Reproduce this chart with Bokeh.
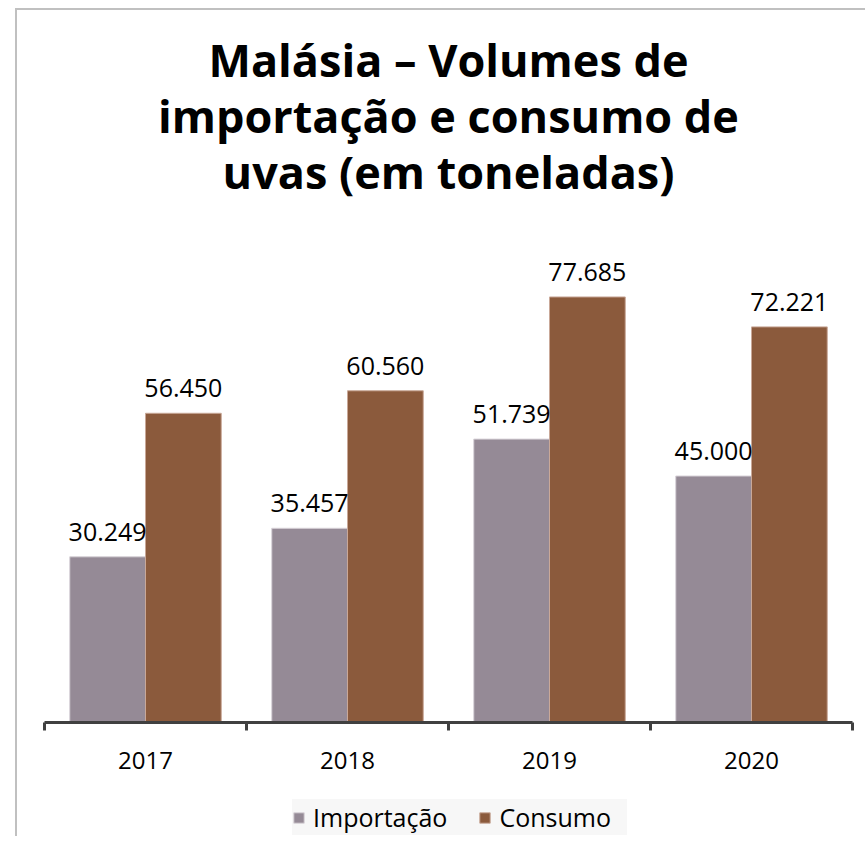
from bokeh.plotting import figure
from bokeh.layouts import column
from bokeh.models import (ColumnDataSource, Range1d, FixedTicker, Legend, LegendItem,
                          LabelSet, Title)
from bokeh.core.properties import value
from bokeh.embed import file_html
from bokeh.resources import INLINE

# ---- data (tonnes) ----
years = ["2017", "2018", "2019", "2020"]
importacao = [30249, 35457, 51739, 45000]
consumo = [56450, 60560, 77685, 72221]
series_names = ["Importação", "Consumo"]
title_lines = ["Malásia – Volumes de", "importação e consumo de", "uvas (em toneladas)"]
colors = ["#958A96", "#8B5A3C"]
edge_colors = ["#d8d2d8", "#c9a898"]

def fmt(v):
    return f"{v:,}".replace(",", ".")

centers = [i + 0.5 for i in range(len(years))]
bar_w = 0.375
src = ColumnDataSource(dict(
    x_imp=[c - bar_w / 2 for c in centers],
    x_con=[c + bar_w / 2 for c in centers],
    imp=importacao, con=consumo,
    imp_lab=[fmt(v) for v in importacao],
    con_lab=[fmt(v) for v in consumo],
))

FONT = "Open Sans"
W = 848
FRAME_H = 528
Y_END = 90000 * FRAME_H / 493

p = figure(width=W, height=772, output_backend="svg", toolbar_location=None,
           x_range=Range1d(0, len(years)), y_range=Range1d(0, Y_END),
           min_border_left=27, min_border_right=13, min_border_top=184,
           min_border_bottom=60, title=None)

title_standoffs = [-15, 1, -15]
for line, so in reversed(list(zip(title_lines, title_standoffs))):
    p.add_layout(Title(text=line, align="center", text_font=FONT,
                       text_font_style="bold", text_font_size="45px",
                       text_color="#000000", standoff=so, offset=0), "above")

r_imp = p.vbar(x="x_imp", top="imp", width=bar_w, source=src,
               fill_color=colors[0], line_color=edge_colors[0], line_width=1)
r_con = p.vbar(x="x_con", top="con", width=bar_w, source=src,
               fill_color=colors[1], line_color=edge_colors[1], line_width=1)

for xf, yf, tf in [("x_imp", "imp", "imp_lab"), ("x_con", "con", "con_lab")]:
    p.add_layout(LabelSet(x=xf, y=yf, text=tf, source=src, y_offset=16,
                          text_align="center", text_baseline="alphabetic",
                          text_font=value(FONT), text_font_size="25px",
                          text_color="#000000"))

p.yaxis.visible = False
p.xgrid.visible = False
p.ygrid.visible = False
p.outline_line_color = None

ax = p.xaxis[0]
ax.ticker = FixedTicker(ticks=centers, minor_ticks=list(range(len(years) + 1)))
ax.major_label_overrides = {c: y for c, y in zip(centers, years)}
ax.major_tick_out = 0
ax.major_tick_in = 0
ax.minor_tick_out = 8
ax.minor_tick_in = 0
ax.minor_tick_line_width = 3
ax.minor_tick_line_color = "#404040"
ax.axis_line_width = 3
ax.axis_line_color = "#404040"
ax.major_label_text_font = FONT
ax.major_label_text_font_size = "24px"
ax.major_label_text_color = "#000000"
ax.major_label_standoff = 21

# ---- legend strip (same series, renderers hidden; only their swatches show) ----
p2 = figure(width=W, height=54, output_backend="svg", toolbar_location=None,
            x_range=Range1d(0, len(years)), y_range=Range1d(-2e6, -1e6), min_border=0)
p2.axis.visible = False
p2.grid.visible = False
p2.outline_line_color = None
g_imp = p2.vbar(x="x_imp", top="imp", width=bar_w, source=src,
                fill_color=colors[0], line_color=edge_colors[0], visible=False)
g_con = p2.vbar(x="x_con", top="con", width=bar_w, source=src,
                fill_color=colors[1], line_color=edge_colors[1], visible=False)
legend = Legend(items=[LegendItem(label=series_names[0], renderers=[g_imp]),
                       LegendItem(label=series_names[1], renderers=[g_con])],
                orientation="horizontal", location=(248, 1),
                label_text_font=FONT, label_text_font_size="25px",
                label_text_color="#000000", label_height=36,
                glyph_width=13, glyph_height=13, label_standoff=8, spacing=31,
                label_width=128, padding=13, margin=0,
                inactive_fill_alpha=0,
                background_fill_color="#f7f7f7", background_fill_alpha=1,
                border_line_color=None)
p2.add_layout(legend)

layout = column(p, p2, spacing=0)
layout.styles = {"margin-left": "15px", "margin-top": "8px",
                 "border-left": "2px solid #c0c0c0", "border-top": "2px solid #c0c0c0"}

open("out.html", "w").write(file_html(layout, INLINE))
